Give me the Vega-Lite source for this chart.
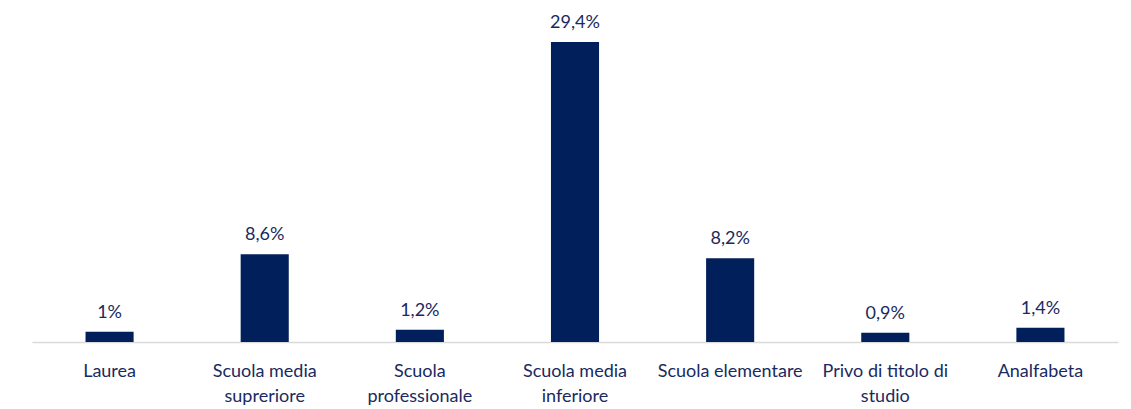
{
  "$schema": "https://vega.github.io/schema/vega-lite/v6.json",
  "autosize": "none",
  "width": 1086,
  "height": 300,
  "padding": {"left": 32, "top": 42, "right": 13, "bottom": 67},
  "background": "white",
  "config": {"view": {"stroke": null}, "font": "Lato"},
  "data": {
    "values": [
      {"categoria": "Laurea", "valore": 1, "etichetta": "1%"},
      {"categoria": "Scuola media|supreriore", "valore": 8.6, "etichetta": "8,6%"},
      {"categoria": "Scuola|professionale", "valore": 1.2, "etichetta": "1,2%"},
      {"categoria": "Scuola media|inferiore", "valore": 29.4, "etichetta": "29,4%"},
      {"categoria": "Scuola elementare", "valore": 8.2, "etichetta": "8,2%"},
      {"categoria": "Privo di titolo di|studio", "valore": 0.9, "etichetta": "0,9%"},
      {"categoria": "Analfabeta", "valore": 1.4, "etichetta": "1,4%"}
    ]
  },
  "encoding": {
    "x": {
      "field": "categoria",
      "type": "nominal",
      "sort": null,
      "scale": {"paddingInner": 0.69, "paddingOuter": 0.345},
      "axis": {
        "title": null,
        "labelAngle": 0,
        "labelExpr": "split(datum.label, '|')",
        "labelFont": "Lato",
        "labelFontSize": 18,
        "labelColor": "#1a2a60",
        "labelPadding": 20,
        "labelLineHeight": 25,
        "labelBaseline": "top",
        "ticks": false,
        "domainColor": "#d9d9d9",
        "domainWidth": 1.5,
        "grid": false
      }
    },
    "y": {
      "field": "valore",
      "type": "quantitative",
      "scale": {"domain": [0, 29.4], "nice": false},
      "axis": null
    }
  },
  "layer": [
    {"mark": {"type": "bar", "color": "#001f5b"}},
    {
      "mark": {"type": "text", "baseline": "bottom", "dy": -10, "fontSize": 18, "color": "#1a2a60", "font": "Lato"},
      "encoding": {"text": {"field": "etichetta"}}
    }
  ]
}
